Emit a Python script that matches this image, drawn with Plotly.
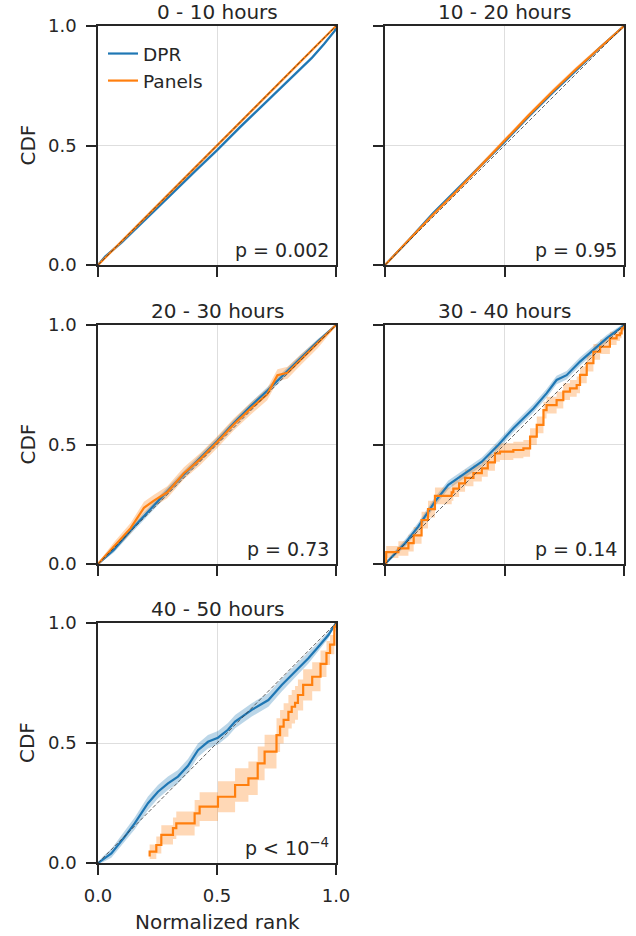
import plotly.graph_objects as go

# ---------------- data ----------------
titles = ["0 - 10 hours", "10 - 20 hours", "20 - 30 hours", "30 - 40 hours", "40 - 50 hours"]
p_labels = ["p = 0.002", "p = 0.95", "p = 0.73", "p = 0.14", "p < 10<sup>\u22124</sup>"]
series_names = ["DPR", "Panels"]
tick_vals = [0.0, 0.5, 1.0]
tick_text = ["0.0", "0.5", "1.0"]
diag_x = [0.0, 1.0]
diag_y = [0.0, 1.0]

# 0 - 10 hours
dpr1_x = [0, 0.03, 0.1, 0.2, 0.3, 0.4, 0.5, 0.6, 0.7, 0.8, 0.9, 0.95, 0.995, 1.0]
dpr1_y = [0, 0.035, 0.095, 0.19, 0.288, 0.385, 0.48, 0.58, 0.675, 0.77, 0.868, 0.925, 0.98, 1.0]
dpr1_e = [0.002, 0.006, 0.008, 0.008, 0.008, 0.008, 0.008, 0.008, 0.008, 0.008, 0.008, 0.006, 0.004, 0.002]
pan1_x = [0, 0.1, 0.2, 0.3, 0.4, 0.5, 0.6, 0.7, 0.8, 0.9, 1.0]
pan1_y = [0, 0.1, 0.2, 0.302, 0.402, 0.502, 0.602, 0.701, 0.801, 0.9, 1.0]
pan1_e = [0.002, 0.005, 0.005, 0.005, 0.005, 0.005, 0.005, 0.005, 0.005, 0.005, 0.002]

# 10 - 20 hours
dpr2_x = [0, 0.1, 0.2, 0.3, 0.4, 0.5, 0.6, 0.7, 0.8, 0.9, 1.0]
dpr2_y = [0, 0.105, 0.215, 0.315, 0.415, 0.515, 0.62, 0.72, 0.815, 0.91, 1.0]
dpr2_e = [0.002, 0.008, 0.008, 0.008, 0.008, 0.008, 0.008, 0.008, 0.008, 0.006, 0.002]
pan2_x = [0, 0.1, 0.2, 0.3, 0.4, 0.5, 0.6, 0.7, 0.8, 0.9, 1.0]
pan2_y = [0, 0.105, 0.21, 0.31, 0.415, 0.52, 0.625, 0.725, 0.82, 0.91, 1.0]
pan2_e = [0.002, 0.008, 0.01, 0.01, 0.01, 0.01, 0.01, 0.01, 0.01, 0.008, 0.002]

# 20 - 30 hours
dpr3_x = [0, 0.067, 0.137, 0.207, 0.277, 0.361, 0.431, 0.501, 0.571, 0.641, 0.711, 0.782, 0.852, 0.922, 1.0]
dpr3_y = [0, 0.06, 0.14, 0.215, 0.29, 0.375, 0.445, 0.515, 0.59, 0.66, 0.725, 0.795, 0.865, 0.93, 1.0]
dpr3_e = [0.003, 0.012, 0.014, 0.015, 0.015, 0.015, 0.015, 0.015, 0.015, 0.015, 0.015, 0.014, 0.012, 0.01, 0.003]
pan3_x = [0, 0.067, 0.137, 0.193, 0.235, 0.291, 0.361, 0.431, 0.501, 0.571, 0.641, 0.711, 0.754, 0.796, 0.852, 0.922, 1.0]
pan3_y = [0, 0.073, 0.15, 0.235, 0.265, 0.30, 0.38, 0.44, 0.51, 0.585, 0.65, 0.71, 0.79, 0.80, 0.855, 0.92, 1.0]
pan3_e = [0.005, 0.018, 0.022, 0.025, 0.025, 0.025, 0.025, 0.025, 0.025, 0.025, 0.025, 0.025, 0.025, 0.025, 0.022, 0.018, 0.005]

# 30 - 40 hours
dpr4_x = [0, 0.042, 0.084, 0.139, 0.209, 0.265, 0.335, 0.405, 0.474, 0.537, 0.621, 0.676, 0.718, 0.76, 0.816, 0.872, 0.927, 0.983, 1.0]
dpr4_y = [0, 0.045, 0.087, 0.156, 0.261, 0.331, 0.379, 0.428, 0.498, 0.568, 0.651, 0.714, 0.77, 0.79, 0.847, 0.895, 0.944, 0.986, 1.0]
dpr4_e = [0.005, 0.012, 0.015, 0.018, 0.018, 0.018, 0.018, 0.018, 0.018, 0.018, 0.018, 0.018, 0.018, 0.018, 0.018, 0.016, 0.014, 0.01, 0.005]
pan4_x = [0.0, 0.005, 0.056, 0.098, 0.12, 0.153, 0.18, 0.209, 0.279, 0.286, 0.31, 0.335, 0.37, 0.405, 0.43, 0.46, 0.481, 0.537, 0.579,
          0.607, 0.635, 0.663, 0.676, 0.718, 0.746, 0.774, 0.802, 0.816, 0.844, 0.872, 0.90, 0.941, 0.969, 0.983, 0.99, 1.0]
pan4_y = [0.0, 0.05, 0.065, 0.087, 0.12, 0.184, 0.23, 0.285, 0.30, 0.315, 0.337, 0.36, 0.38, 0.40, 0.425, 0.463, 0.47, 0.477, 0.484,
          0.533, 0.582, 0.644, 0.665, 0.686, 0.721, 0.735, 0.749, 0.791, 0.84, 0.888, 0.909, 0.944, 0.958, 0.965, 0.986, 1.0]
pan4_e = [0.01, 0.025, 0.03, 0.035, 0.035, 0.035, 0.035, 0.035, 0.035, 0.035, 0.035, 0.035, 0.035, 0.035, 0.035, 0.035, 0.035, 0.035, 0.035,
          0.035, 0.035, 0.035, 0.035, 0.035, 0.035, 0.035, 0.035, 0.035, 0.035, 0.033, 0.03, 0.028, 0.025, 0.02, 0.012, 0.005]

# 40 - 50 hours
dpr5_x = [0, 0.02, 0.056, 0.112, 0.154, 0.21, 0.252, 0.294, 0.336, 0.378, 0.42, 0.462, 0.504, 0.546, 0.576, 0.646, 0.716, 0.772, 0.828, 0.884, 0.926, 0.968, 1.0]
dpr5_y = [0, 0.015, 0.04, 0.109, 0.165, 0.249, 0.297, 0.332, 0.36, 0.405, 0.47, 0.505, 0.522, 0.555, 0.589, 0.638, 0.679, 0.742, 0.797, 0.853, 0.901, 0.95, 1.0]
dpr5_e = [0.003, 0.012, 0.018, 0.022, 0.025, 0.028, 0.028, 0.028, 0.028, 0.028, 0.028, 0.028, 0.028, 0.028, 0.028, 0.028, 0.028, 0.027, 0.025, 0.022, 0.018, 0.014, 0.004]
pan5_x = [0.217, 0.217, 0.245, 0.266, 0.315, 0.329, 0.406, 0.427, 0.504, 0.576, 0.632, 0.671, 0.70, 0.75, 0.765, 0.78, 0.80, 0.814, 0.828, 0.84,
          0.862, 0.90, 0.935, 0.96, 0.975, 0.993, 1.0]
pan5_y = [0.027, 0.047, 0.075, 0.117, 0.145, 0.165, 0.207, 0.235, 0.276, 0.325, 0.353, 0.415, 0.464, 0.533, 0.568, 0.596, 0.63, 0.651, 0.667, 0.70,
          0.742, 0.776, 0.83, 0.875, 0.91, 0.985, 1.0]
pan5_e = [0.02, 0.03, 0.035, 0.04, 0.045, 0.05, 0.055, 0.06, 0.065, 0.07, 0.07, 0.07, 0.07, 0.07, 0.07, 0.07, 0.07, 0.07, 0.07, 0.065,
          0.065, 0.06, 0.055, 0.05, 0.04, 0.02, 0.01]

panels = [
    dict(dpr=(dpr1_x, dpr1_y, dpr1_e), pan=(pan1_x, pan1_y, pan1_e), pan_shape="linear"),
    dict(dpr=(dpr2_x, dpr2_y, dpr2_e), pan=(pan2_x, pan2_y, pan2_e), pan_shape="linear"),
    dict(dpr=(dpr3_x, dpr3_y, dpr3_e), pan=(pan3_x, pan3_y, pan3_e), pan_shape="linear"),
    dict(dpr=(dpr4_x, dpr4_y, dpr4_e), pan=(pan4_x, pan4_y, pan4_e), pan_shape="hv"),
    dict(dpr=(dpr5_x, dpr5_y, dpr5_e), pan=(pan5_x, pan5_y, pan5_e), pan_shape="hv"),
]

# ---------------- styling / layout ----------------
W, H = 636, 936
FONT = "DejaVu Sans"
TXT = "#262626"
COLORS = {"dpr": "#1f77b4", "pan": "#ff7f0e"}
FILLS = {"dpr": "rgba(31,119,180,0.30)", "pan": "rgba(255,127,14,0.30)"}

col_dom = [(98 / W, 336 / W), (385 / W, 624 / W)]
row_dom = [(1 - 265 / H, 1 - 26 / H), (1 - 564 / H, 1 - 325 / H), (1 - 863 / H, 1 - 623 / H)]

fig = go.Figure()
layout = dict(
    width=W, height=H,
    margin=dict(l=0, r=0, t=0, b=0),
    paper_bgcolor="white", plot_bgcolor="white",
    font=dict(family=FONT, color=TXT, size=18),
    showlegend=True,
    legend=dict(x=103 / W, y=1 - 35 / H, xanchor="left", yanchor="top",
                bgcolor="rgba(0,0,0,0)", font=dict(size=18.5, family=FONT, color=TXT),
                itemwidth=30, tracegroupgap=0, traceorder="normal"),
)
annotations = []

for i, p in enumerate(panels):
    r, c = divmod(i, 2)
    n = i + 1
    xa = "x" if n == 1 else f"x{n}"
    ya = "y" if n == 1 else f"y{n}"
    for key, shape in (("dpr", "linear"), ("pan", p["pan_shape"])):
        xs, ys, es = p[key]
        lo = [y - e for y, e in zip(ys, es)]
        hi = [y + e for y, e in zip(ys, es)]
        fig.add_trace(go.Scatter(x=xs, y=lo, mode="lines", line=dict(width=0, shape=shape),
                                 showlegend=False, hoverinfo="skip", xaxis=xa, yaxis=ya))
        fig.add_trace(go.Scatter(x=xs, y=hi, mode="lines", line=dict(width=0, shape=shape),
                                 fill="tonexty", fillcolor=FILLS[key],
                                 showlegend=False, hoverinfo="skip", xaxis=xa, yaxis=ya))
    for key, shape in (("dpr", "linear"), ("pan", p["pan_shape"])):
        xs, ys, es = p[key]
        fig.add_trace(go.Scatter(x=xs, y=ys, mode="lines",
                                 line=dict(color=COLORS[key], width=2.2, shape=shape),
                                 name=series_names[0] if key == "dpr" else series_names[1],
                                 showlegend=(n == 1), xaxis=xa, yaxis=ya))
    fig.add_trace(go.Scatter(x=diag_x, y=diag_y, mode="lines",
                             line=dict(color="rgba(60,60,60,0.8)", width=1, dash="4px,2px"),
                             showlegend=False, hoverinfo="skip", xaxis=xa, yaxis=ya))

    axis_common = dict(range=[0, 1], tickvals=tick_vals, ticktext=tick_text,
                       ticks="outside", ticklen=10, tickwidth=1.5, tickcolor=TXT,
                       showline=True, linecolor=TXT, linewidth=1.6, mirror=True,
                       showgrid=True, gridcolor="#dedede", gridwidth=1,
                       zeroline=False, automargin=False, fixedrange=True,
                       tickfont=dict(size=18, family=FONT, color=TXT),
                       ticklabelstandoff=6)
    layout["xaxis" if n == 1 else f"xaxis{n}"] = dict(
        axis_common, domain=list(col_dom[c]), anchor=ya,
        showticklabels=(n == 5))
    layout["yaxis" if n == 1 else f"yaxis{n}"] = dict(
        axis_common, domain=list(row_dom[r]), anchor=xa,
        showticklabels=(c == 0))

    annotations.append(dict(text=titles[i], xref="paper", yref="paper",
                            x=(col_dom[c][0] + col_dom[c][1]) / 2, y=row_dom[r][1],
                            xanchor="center", yanchor="bottom", yshift=0, showarrow=False,
                            font=dict(size=20, family=FONT, color=TXT)))
    annotations.append(dict(text=p_labels[i], xref=f"{xa} domain", yref=f"{ya} domain",
                            x=0.98, y=0.01, xanchor="right", yanchor="bottom", showarrow=False,
                            font=dict(size=19, family=FONT, color=TXT)))
    if c == 0:
        annotations.append(dict(text="CDF", xref="paper", yref="paper",
                                x=27 / W, y=(row_dom[r][0] + row_dom[r][1]) / 2,
                                xanchor="center", yanchor="middle", textangle=-90, showarrow=False,
                                font=dict(size=20, family=FONT, color=TXT)))

annotations.append(dict(text="Normalized rank", xref="paper", yref="paper",
                        x=(col_dom[0][0] + col_dom[0][1]) / 2, y=1 - 922 / H,
                        xanchor="center", yanchor="middle", showarrow=False,
                        font=dict(size=20, family=FONT, color=TXT)))
layout["annotations"] = annotations
fig.update_layout(**layout)
fig.write_html("out.html", config={"displayModeBar": False},
               post_script="document.body.style.margin='0';")
